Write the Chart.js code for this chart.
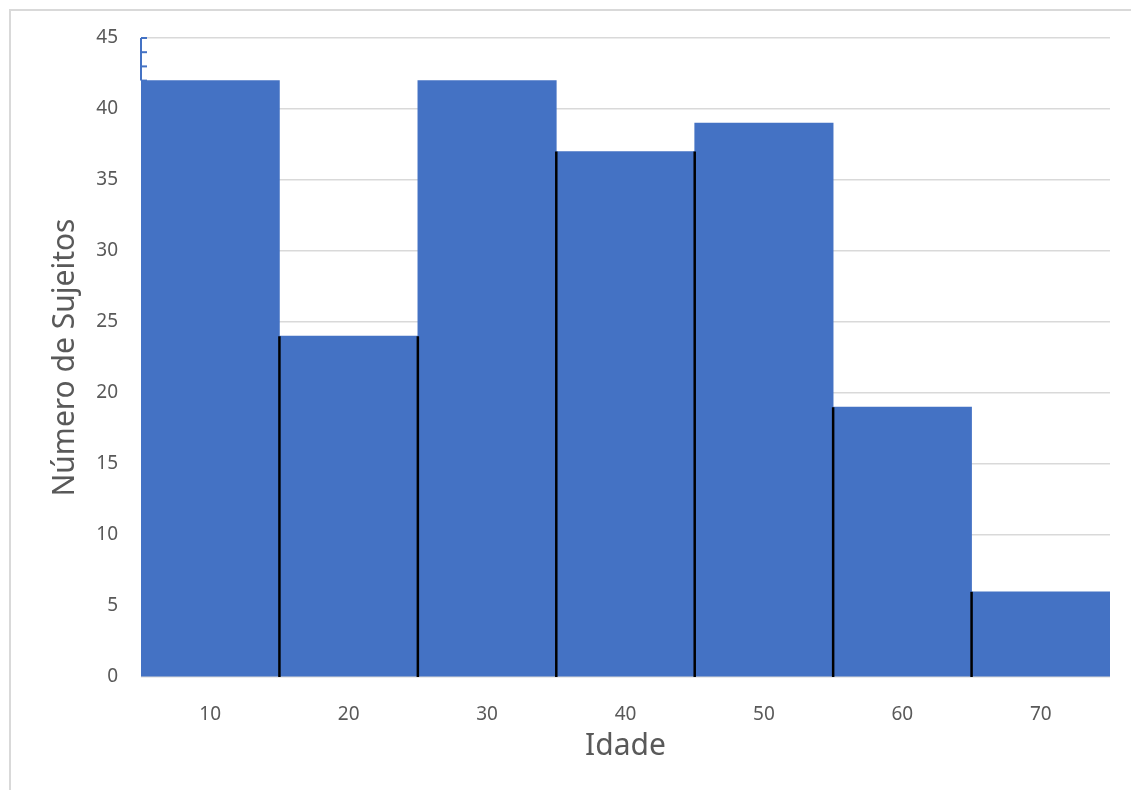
<!DOCTYPE html>
<html>
<head>
<meta charset="utf-8">
<script src="https://cdn.jsdelivr.net/npm/chart.js@4/dist/chart.umd.min.js"></script>
<style>
    body { margin: 0; background: #fff; }
    #frame { position: absolute; left: 9px; top: 9px; width: 1122px; height: 781px;
             border-left: 2px solid #d9d9d9; border-top: 2px solid #d9d9d9; }
    #wrap { position: absolute; left: 0; top: 0; width: 1131px; height: 790px; }
</style>
</head>
<body>
<div id="frame"></div>
<div id="wrap"><canvas id="chart" width="1131" height="790"></canvas></div>
<script>
const idades = ['10', '20', '30', '40', '50', '60', '70'];
const sujeitos = [42, 24, 42, 37, 39, 19, 6];
const yTicks = [0, 45, 5]; // min, max, step

const textColor = '#595959';
const fontFamily = '"Noto Sans", "Open Sans", sans-serif';

// black lines between neighbouring bars, down from the lower one's top
const separators = {
    id: 'separators',
    afterDatasetsDraw(chart) {
        const ctx = chart.ctx;
        const meta = chart.getDatasetMeta(0);
        const y = chart.scales.y;
        ctx.save();
        ctx.strokeStyle = '#000';
        ctx.lineWidth = 2.5;
        for (let i = 0; i < sujeitos.length - 1; i++) {
            const x = (meta.data[i].x + meta.data[i + 1].x) / 2;
            const top = y.getPixelForValue(Math.min(sujeitos[i], sujeitos[i + 1]));
            ctx.beginPath();
            ctx.moveTo(x, top);
            ctx.lineTo(x, y.getPixelForValue(0));
            ctx.stroke();
        }
        // small blue tick marks on the left edge above the first bar
        const left = chart.chartArea.left;
        ctx.strokeStyle = '#4472C4';
        ctx.lineWidth = 2;
        ctx.beginPath();
        ctx.moveTo(left, y.getPixelForValue(yTicks[1]));
        ctx.lineTo(left, y.getPixelForValue(sujeitos[0]));
        ctx.stroke();
        for (let v = yTicks[1]; v >= sujeitos[0]; v--) {
            const py = y.getPixelForValue(v);
            ctx.beginPath();
            ctx.moveTo(left, py);
            ctx.lineTo(left + 6, py);
            ctx.stroke();
        }
        ctx.restore();
    }
};

const ctx = document.getElementById('chart').getContext('2d');

new Chart(ctx, {
    type: 'bar',
    data: {
        labels: idades,
        datasets: [{
            data: sujeitos,
            backgroundColor: '#4472C4',
            borderWidth: 0,
            barPercentage: 1,
            categoryPercentage: 1
        }]
    },
    options: {
        responsive: false,
        animation: false,
        layout: { padding: { left: 0, top: 38, right: 21, bottom: 0 } },
        plugins: {
            legend: { display: false },
            tooltip: { enabled: false }
        },
        scales: {
            x: {
                grid: { display: false },
                border: { display: false },
                ticks: { color: textColor, padding: 18, font: { family: fontFamily, size: 19 } },
                title: {
                    display: true,
                    text: 'Idade',
                    color: textColor,
                    padding: { top: 0, bottom: 26 },
                    font: { family: fontFamily, size: 30 }
                },
                afterFit(s) { s.height = 113; }
            },
            y: {
                min: yTicks[0],
                max: yTicks[1],
                grid: { color: '#d9d9d9', lineWidth: 1.5, drawTicks: false },
                border: { display: false },
                ticks: { stepSize: yTicks[2], color: textColor, padding: 23, font: { family: fontFamily, size: 19 } },
                title: {
                    display: true,
                    text: 'Número de Sujeitos',
                    color: textColor,
                    padding: { top: 47, bottom: 0 },
                    font: { family: fontFamily, size: 30 }
                },
                afterFit(s) { s.width = 141; }
            }
        }
    },
    plugins: [separators]
});
</script>
</body>
</html>
